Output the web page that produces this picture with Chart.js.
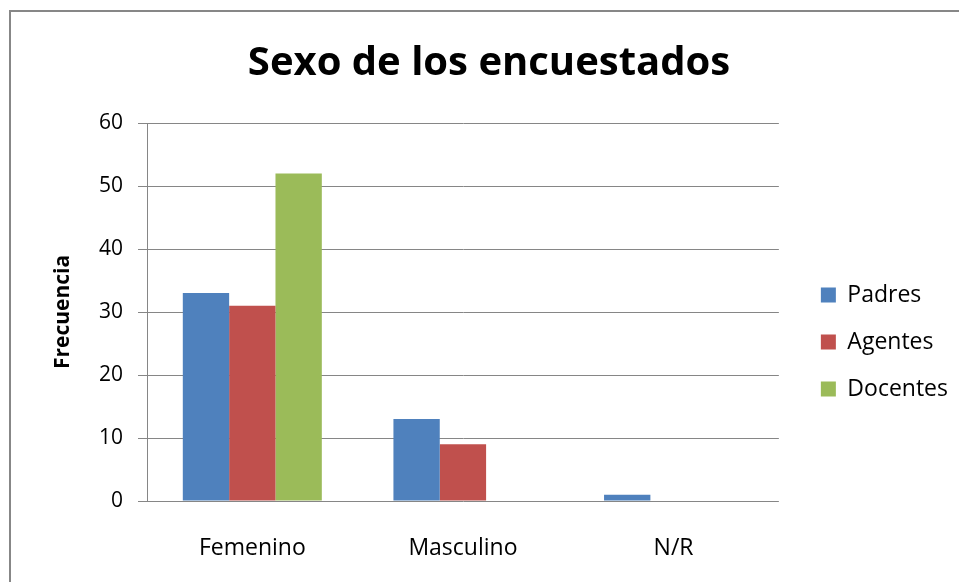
<!DOCTYPE html>
<html>
<head>
<meta charset="utf-8">
<script src="https://cdn.jsdelivr.net/npm/chart.js@4.4.1/dist/chart.umd.min.js"></script>
<style>
  html, body { margin: 0; padding: 0; background: #fff; }
  #wrap { width: 959px; height: 582px; position: relative; }
</style>
</head>
<body>
<div id="wrap"><canvas id="myChart"></canvas></div>
<script>
var categories = ['Femenino', 'Masculino', 'N/R'];
var seriesNames = ['Padres', 'Agentes', 'Docentes'];
var padres = [33, 13, 1];
var agentes = [31, 9, 0];
var docentes = [52, 0, 0];
var yTicks = [0, 10, 20, 30, 40, 50, 60];

var colors = ['#4F81BD', '#C0504D', '#9BBB59'];
var font = "'Open Sans', 'DejaVu Sans', sans-serif";
var gridColor = '#868686';

// frame around the chart
var framePlugin = {
    id: 'frame',
    beforeDraw: function (chart) {
        var c = chart.ctx;
        c.save();
        c.fillStyle = '#fff';
        c.fillRect(0, 0, chart.width, chart.height);
        c.strokeStyle = '#878787';
        c.lineWidth = 2;
        c.strokeRect(10, 11, 970, 600);
        c.restore();
    }
};

// nudge legend and title to where the original has them
var nudge = {
    id: 'nudge',
    afterLayout: function (chart) {
        var lg = chart.legend;
        lg.left += 18; lg.right += 18;
        lg.top += 30; lg.bottom += 30;
        var t = chart.titleBlock;
        t.left += 19; t.right += 19;
    }
};

var ctx = document.getElementById('myChart').getContext('2d');
var myChart = new Chart(ctx, {
    type: 'bar',
    data: {
        labels: categories,
        datasets: [{
            label: seriesNames[0],
            data: padres,
            backgroundColor: colors[0]
        }, {
            label: seriesNames[1],
            data: agentes,
            backgroundColor: colors[1]
        }, {
            label: seriesNames[2],
            data: docentes,
            backgroundColor: colors[2]
        }]
    },
    options: {
        responsive: true,
        maintainAspectRatio: false,
        animation: false,
        categoryPercentage: 0.66,
        barPercentage: 1,
        borderWidth: 0,
        layout: { padding: { left: 0, right: 19, top: 0, bottom: 0 } },
        plugins: {
            title: {
                display: true,
                text: 'Sexo de los encuestados',
                color: '#000',
                font: { family: font, size: 40, weight: 'bold', lineHeight: 1.2 },
                padding: { top: 40, bottom: 35 }
            },
            legend: {
                position: 'right',
                fullSize: false,
                labels: {
                    color: '#000',
                    font: { family: font, size: 23 },
                    boxWidth: 15,
                    boxHeight: 15,
                    padding: 24
                }
            },
            tooltip: { enabled: false }
        },
        scales: {
            x: {
                grid: { display: false },
                border: { display: false },
                ticks: {
                    color: '#000',
                    font: { family: font, size: 23 },
                    padding: 26
                },
                afterFit: function (s) { s.height = 81; }
            },
            y: {
                min: 0,
                max: 60,
                afterBuildTicks: function (s) {
                    s.ticks = yTicks.map(function (v) { return { value: v }; });
                },
                grid: { color: gridColor, tickLength: 9, tickColor: gridColor },
                border: { display: true, color: gridColor },
                ticks: {
                    color: '#000',
                    font: { family: font, size: 21 },
                    padding: 15
                },
                title: {
                    display: true,
                    text: 'Frecuencia',
                    color: '#000',
                    font: { family: font, size: 21, weight: 'bold' },
                    padding: { top: 50, bottom: 0 }
                },
                afterFit: function (s) { s.width = 147; }
            }
        }
    },
    plugins: [framePlugin, nudge]
});
</script>
</body>
</html>
